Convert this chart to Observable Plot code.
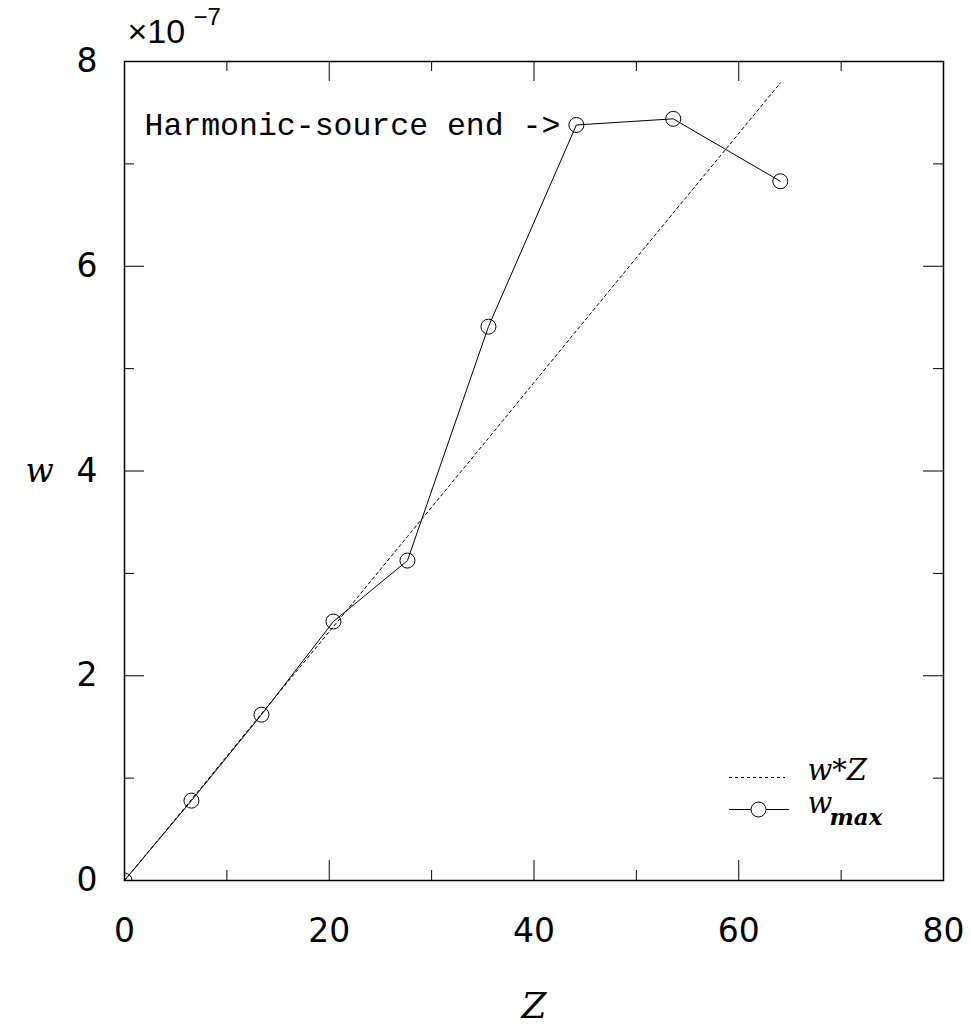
<!DOCTYPE html>
<html>
<head>
<meta charset="utf-8">
<script src="https://cdn.jsdelivr.net/npm/d3@7"></script>
<script src="https://cdn.jsdelivr.net/npm/@observablehq/plot@0.6"></script>
<style>
  html, body { margin: 0; padding: 0; background: #fff; }
  #chart svg { display: block; }
</style>
</head>
<body>
<div id="chart"></div>
<script>
// ---- data ----
const Z      = [0, 6.54, 13.38, 20.41, 27.64, 35.55, 44.14, 53.6, 64.06];
const wmax   = [0, 0.78, 1.62, 2.53, 3.125, 5.41, 7.38, 7.44, 6.83];   // ×1e-7
const wZ     = [0, 0.79, 1.63, 2.48, 3.36, 4.32, 5.37, 6.52, 7.79];    // ×1e-7
const xMajor = [0, 20, 40, 60, 80];
const xMinor = [10, 30, 50, 70];
const yMajor = [0, 2, 4, 6, 8];
const yMinor = [1, 3, 5, 7];
const annotation = "Harmonic-source end ->";
const annotIndex = 6;

const wmaxData = Z.map((z, i) => ({Z: z, w: wmax[i]}));
const wZData = Z.map((z, i) => ({Z: z, w: wZ[i]}));

const W = 971, H = 1029;
const mL = 124, mR = 28, mT = 61, mB = 149;
const iw = W - mL - mR, ih = H - mT - mB;
const major = 20, minor = 10;

const sans = "DejaVu Sans";
const serif = "DejaVu Serif";
const mono = "Liberation Mono";

const chart = Plot.plot({
  width: W,
  height: H,
  marginLeft: mL, marginRight: mR, marginTop: mT, marginBottom: mB,
  x: {domain: [0, 80]},
  y: {domain: [0, 8]},
  style: {background: "white", color: "black"},
  marks: [
    // ticks pointing inward on all four sides
    Plot.ruleX(xMajor, {insetTop: ih - major, stroke: "black"}),
    Plot.ruleX(xMinor, {insetTop: ih - minor, stroke: "black"}),
    Plot.ruleX(xMajor, {insetBottom: ih - major, stroke: "black"}),
    Plot.ruleX(xMinor, {insetBottom: ih - minor, stroke: "black"}),
    Plot.ruleY(yMajor, {insetRight: iw - major, stroke: "black"}),
    Plot.ruleY(yMinor, {insetRight: iw - minor, stroke: "black"}),
    Plot.ruleY(yMajor, {insetLeft: iw - major, stroke: "black"}),
    Plot.ruleY(yMinor, {insetLeft: iw - minor, stroke: "black"}),
    Plot.frame({stroke: "black", strokeWidth: 1.5}),
    // axes labels
    Plot.axisX(xMajor, {tickSize: 0, tickPadding: 38, fontSize: 33, fontFamily: sans, label: null, tickFormat: d => String(d)}),
    Plot.axisY(yMajor, {tickSize: 0, tickPadding: 27, fontSize: 33, fontFamily: sans, label: null, tickFormat: d => String(d)}),
    Plot.text(["Z"], {frameAnchor: "bottom", dy: 126, fontSize: 36, fontFamily: serif, fontStyle: "italic", lineAnchor: "middle"}),
    Plot.text(["w"], {frameAnchor: "left", dx: -99, fontSize: 33, fontFamily: serif, fontStyle: "italic", lineAnchor: "middle"}),
    Plot.text(["×10"], {frameAnchor: "top-left", dx: 3, dy: -29, textAnchor: "start", fontSize: 34, fontFamily: "Liberation Sans", lineAnchor: "middle"}),
    Plot.text(["−7"], {frameAnchor: "top-left", dx: 69, dy: -44, textAnchor: "start", fontSize: 24, fontFamily: "Liberation Sans", lineAnchor: "middle"}),
    // data
    Plot.line(wZData, {x: "Z", y: "w", stroke: "black", strokeWidth: 1, strokeDasharray: "3,3"}),
    Plot.line(wmaxData, {x: "Z", y: "w", stroke: "black", strokeWidth: 1}),
    Plot.dot(wmaxData, {x: "Z", y: "w", r: 7.5, stroke: "black", strokeWidth: 1, fill: "none", clip: true}),
    Plot.text([wmaxData[annotIndex]], {x: "Z", y: "w", text: () => annotation, textAnchor: "end", dx: -16, fontSize: 31.5, fontFamily: mono, lineAnchor: "middle"}),
    // legend
    Plot.ruleY([0], {dy: -103, insetLeft: 605, insetRight: 158, stroke: "black", strokeWidth: 1, strokeDasharray: "3,3"}),
    Plot.ruleY([0], {dy: -71, insetLeft: 605, insetRight: 154, stroke: "black", strokeWidth: 1}),
    Plot.dot([0], {frameAnchor: "bottom-right", dx: -185, dy: -71, r: 7.5, stroke: "black", fill: "white", strokeWidth: 1}),
    Plot.text(["w*Z"], {frameAnchor: "bottom-right", dx: -136, dy: -110, textAnchor: "start", fontSize: 29, fontFamily: serif, fontStyle: "italic", lineAnchor: "middle"}),
    Plot.text(["w"], {frameAnchor: "bottom-right", dx: -136, dy: -77, textAnchor: "start", fontSize: 29, fontFamily: serif, fontStyle: "italic", lineAnchor: "middle"}),
    Plot.text(["max"], {frameAnchor: "bottom-right", dx: -114, dy: -63, textAnchor: "start", fontSize: 23, fontFamily: serif, fontStyle: "italic", fontWeight: "bold", lineAnchor: "middle"})
  ]
});
document.getElementById("chart").appendChild(chart);
</script>
</body>
</html>
